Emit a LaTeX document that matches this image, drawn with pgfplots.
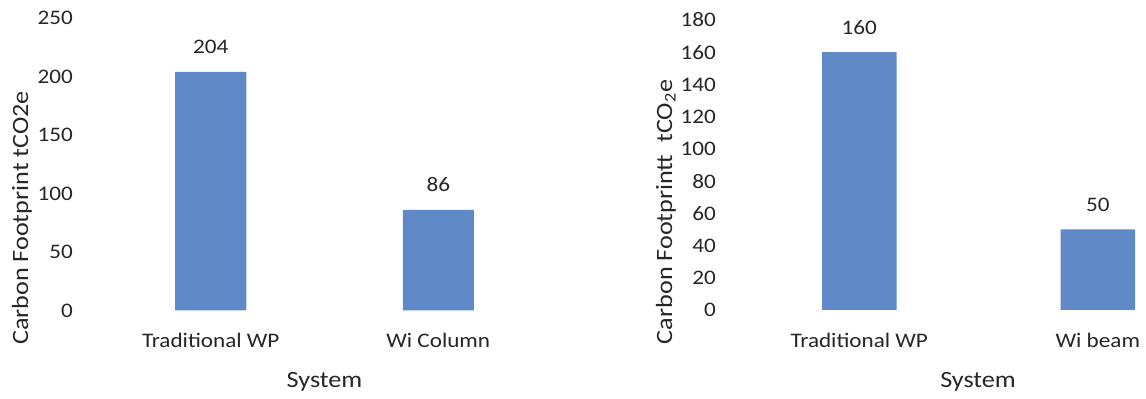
\documentclass[border=0pt]{standalone}
\usepackage{pgfplots}
\pgfplotsset{compat=1.18}
\usepackage{fontspec}
\setmainfont{Carlito}[FakeStretch=1.12]
\definecolor{barblue}{RGB}{96,137,199}
\definecolor{txt}{RGB}{38,38,38}
\newcommand{\ff}{\fontsize{15.5}{18}\selectfont}
\newcommand{\tf}{\fontsize{17.5}{20}\selectfont}
\begin{document}
\begin{tikzpicture}
\path[use as bounding box] (0pt,0pt) rectangle (859.5pt,299.25pt);
\pgfplotsset{
 mystyle/.style={
  scale only axis,
  ybar,
  ymin=0,
  xmin=-0.5,
  xtick={0,1},
  enlargelimits=false,
  axis line style={draw=none},
  tick style={draw=none},
  major tick length=0pt,
  yticklabel style={anchor=east, inner sep=0pt, xshift=-18pt},
  xticklabel style={anchor=base, inner sep=0pt, yshift=-28pt},
  every tick label/.append style={font=\ff, text=txt},
  label style={font=\tf, text=txt},
  /pgf/number format/assume math mode=true,
  nodes near coords,
  every node near coord/.append style={anchor=base, inner sep=0pt, yshift=13.5pt, font=\ff, text=txt},
 }
}
\begin{axis}[mystyle,
  at={(72.75pt,66.375pt)}, anchor=south west,
  width=341.25pt, height=219.375pt,
  xmax=1.5, ymax=250, ytick={0,50,...,250},
  bar width=53.25pt,
  xticklabels={Traditional WP, Wi Column},
  ylabel={Carbon Footprint tCO2e},
  ylabel style={at={(axis description cs:-0.165,0.316)}, anchor=center},
  xlabel={System},
  xlabel style={at={(axis description cs:0.5,0)}, anchor=base, inner sep=0pt, yshift=-58pt},
]
\addplot[fill=barblue, draw=none] coordinates {(0,204) (1,86)};
\end{axis}
\begin{axis}[mystyle,
  at={(555pt,66.75pt)}, anchor=south west,
  width=304.125pt, height=217.5pt,
  xmax=1.2, ymax=180, ytick={0,20,...,180},
  bar width=55.9pt,
  xticklabels={Traditional WP, Wi beam},
  ylabel={Carbon Footprintt\ \ tCO\textsubscript{2}e},
  ylabel style={at={(axis description cs:-0.1825,0.338)}, anchor=center},
  xlabel={System},
  xlabel style={at={(axis description cs:0.587,0)}, anchor=base, inner sep=0pt, yshift=-58.5pt},
]
\addplot[fill=barblue, draw=none] coordinates {(0,160) (1,50)};
\end{axis}
\end{tikzpicture}
\end{document}
